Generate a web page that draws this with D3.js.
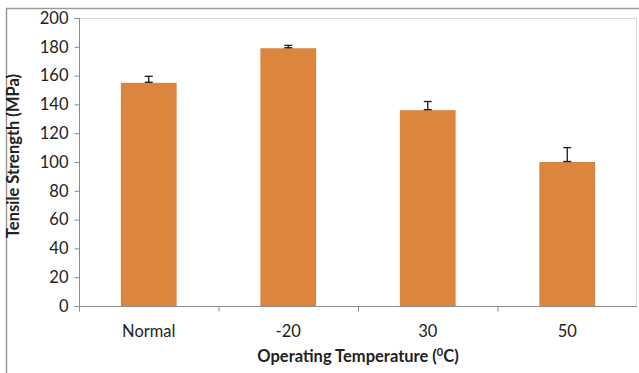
<!DOCTYPE html>
<html>
  <head>
    <script type="text/javascript" src="https://cdnjs.cloudflare.com/ajax/libs/d3/7.8.5/d3.min.js"></script>
    <style type="text/css">
      body { margin: 0; background: #ffffff; }
      text { font-family: Lato, "Open Sans", sans-serif; fill: #222222; }
    </style>
  </head>
  <body>
    <script type="text/javascript">

      // categories and values
      var categories = ["Normal", "-20", "30", "50"];
      var strength = [155, 179, 136, 100];
      var errPlus = [4.5, 2, 6, 10];
      var yTicks = [0, 20, 40, 60, 80, 100, 120, 140, 160, 180, 200];

      var width = 639;
      var height = 373;

      // plot area inside the svg
      var pad = {top: 18, bottom: 67, left: 79, right: 2};

      var svg = d3.select("body")
                  .append("svg")
                  .attr("width", width)
                  .attr("height", height);

      // outer chart border (only top and left visible)
      svg.append("path")
         .attr("d", "M6.5," + height + "V8.5H" + width)
         .attr("fill", "none")
         .attr("stroke", "#9a9a9a")
         .attr("stroke-width", 1.5);

      var xScale = d3.scaleBand()
                     .domain(categories)
                     .range([pad.left, width - pad.right]);

      var yScale = d3.scaleLinear()
                     .domain([0, 200])
                     .range([height - pad.bottom, pad.top]);

      // plot area border top and right
      svg.append("path")
         .attr("d", "M" + pad.left + "," + (pad.top + 0.5) + "H" + (width - pad.right - 0.5)
                    + "V" + yScale(0))
         .attr("fill", "none")
         .attr("stroke", "#d4d4d4")
         .attr("stroke-width", 1);

      // bars
      var barW = xScale.bandwidth() * 0.4;
      svg.selectAll(".bar")
         .data(strength)
         .enter()
         .append("rect")
         .attr("class", "bar")
         .attr("x", function(d, i){
                    return xScale(categories[i]) + (xScale.bandwidth() - barW) / 2;
                    })
         .attr("y", function(d){ return yScale(d); })
         .attr("width", barW)
         .attr("height", function(d){ return yScale(0) - yScale(d); })
         .attr("fill", "#db853f");

      // error bars (plus direction)
      var errG = svg.selectAll(".err")
                    .data(strength)
                    .enter()
                    .append("g")
                    .attr("class", "err")
                    .attr("stroke", "#1a1a1a")
                    .attr("stroke-width", 1.3);
      errG.append("line")
          .attr("x1", function(d, i){ return xScale(categories[i]) + xScale.bandwidth() / 2; })
          .attr("x2", function(d, i){ return xScale(categories[i]) + xScale.bandwidth() / 2; })
          .attr("y1", function(d){ return yScale(d); })
          .attr("y2", function(d, i){ return yScale(d + errPlus[i]); });
      errG.append("line")
          .attr("x1", function(d, i){ return xScale(categories[i]) + xScale.bandwidth() / 2 - 4; })
          .attr("x2", function(d, i){ return xScale(categories[i]) + xScale.bandwidth() / 2 + 4; })
          .attr("y1", function(d, i){ return yScale(d + errPlus[i]); })
          .attr("y2", function(d, i){ return yScale(d + errPlus[i]); });
      errG.append("line")
          .attr("x1", function(d, i){ return xScale(categories[i]) + xScale.bandwidth() / 2 - 4; })
          .attr("x2", function(d, i){ return xScale(categories[i]) + xScale.bandwidth() / 2 + 4; })
          .attr("y1", function(d){ return yScale(d) - 0.5; })
          .attr("y2", function(d){ return yScale(d) - 0.5; });

      // y axis
      var yAxis = d3.axisLeft(yScale)
                    .tickValues(yTicks)
                    .tickSize(5)
                    .tickPadding(6);
      var yG = svg.append("g")
                  .attr("transform", "translate(" + (pad.left + 0.5) + ",0)")
                  .call(yAxis);
      yG.selectAll("path, line").attr("stroke", "#8c8c8c");
      yG.select(".domain").attr("d", "M-5," + (pad.top + 0.5) + "H0V" + (yScale(0) + 0.5) + "H-5");
      yG.selectAll("text")
        .attr("font-size", 16.5)
        .attr("font-family", "Lato, sans-serif")
        .style("fill", "#222");

      // x axis, ticks between categories
      var xAxis = d3.axisBottom(xScale).tickSize(0).tickPadding(19);
      var xG = svg.append("g")
                  .attr("transform", "translate(0," + (yScale(0) + 0.5) + ")")
                  .call(xAxis);
      xG.select(".domain").attr("stroke", "#8c8c8c").attr("d", "M" + pad.left + ",0H" + (width - pad.right));
      xG.selectAll("text")
        .attr("font-size", 16.5)
        .attr("font-family", "Lato, sans-serif")
        .style("fill", "#222");
      xG.selectAll(".sep")
        .data(categories)
        .enter()
        .append("line")
        .attr("class", "sep")
        .attr("x1", function(d){ return xScale(d) + 0.5; })
        .attr("x2", function(d){ return xScale(d) + 0.5; })
        .attr("y1", 0)
        .attr("y2", 5)
        .attr("stroke", "#8c8c8c");

      // axis titles
      var xTitle = svg.append("text")
                      .attr("x", 358)
                      .attr("y", 362)
                      .attr("text-anchor", "middle")
                      .attr("font-size", 16.5)
                      .attr("font-weight", "bold");
      xTitle.append("tspan").text("Operating Temperature (");
      xTitle.append("tspan").attr("font-size", 11).attr("dy", -6).text("0");
      xTitle.append("tspan").attr("dy", 6).text("C)");

      svg.append("text")
         .attr("transform", "translate(19," + 156 + ") rotate(-90)")
         .attr("text-anchor", "middle")
         .attr("font-size", 16.5)
         .attr("font-weight", "bold")
         .text("Tensile Strength (MPa)");
    </script>
  </body>
</html>
